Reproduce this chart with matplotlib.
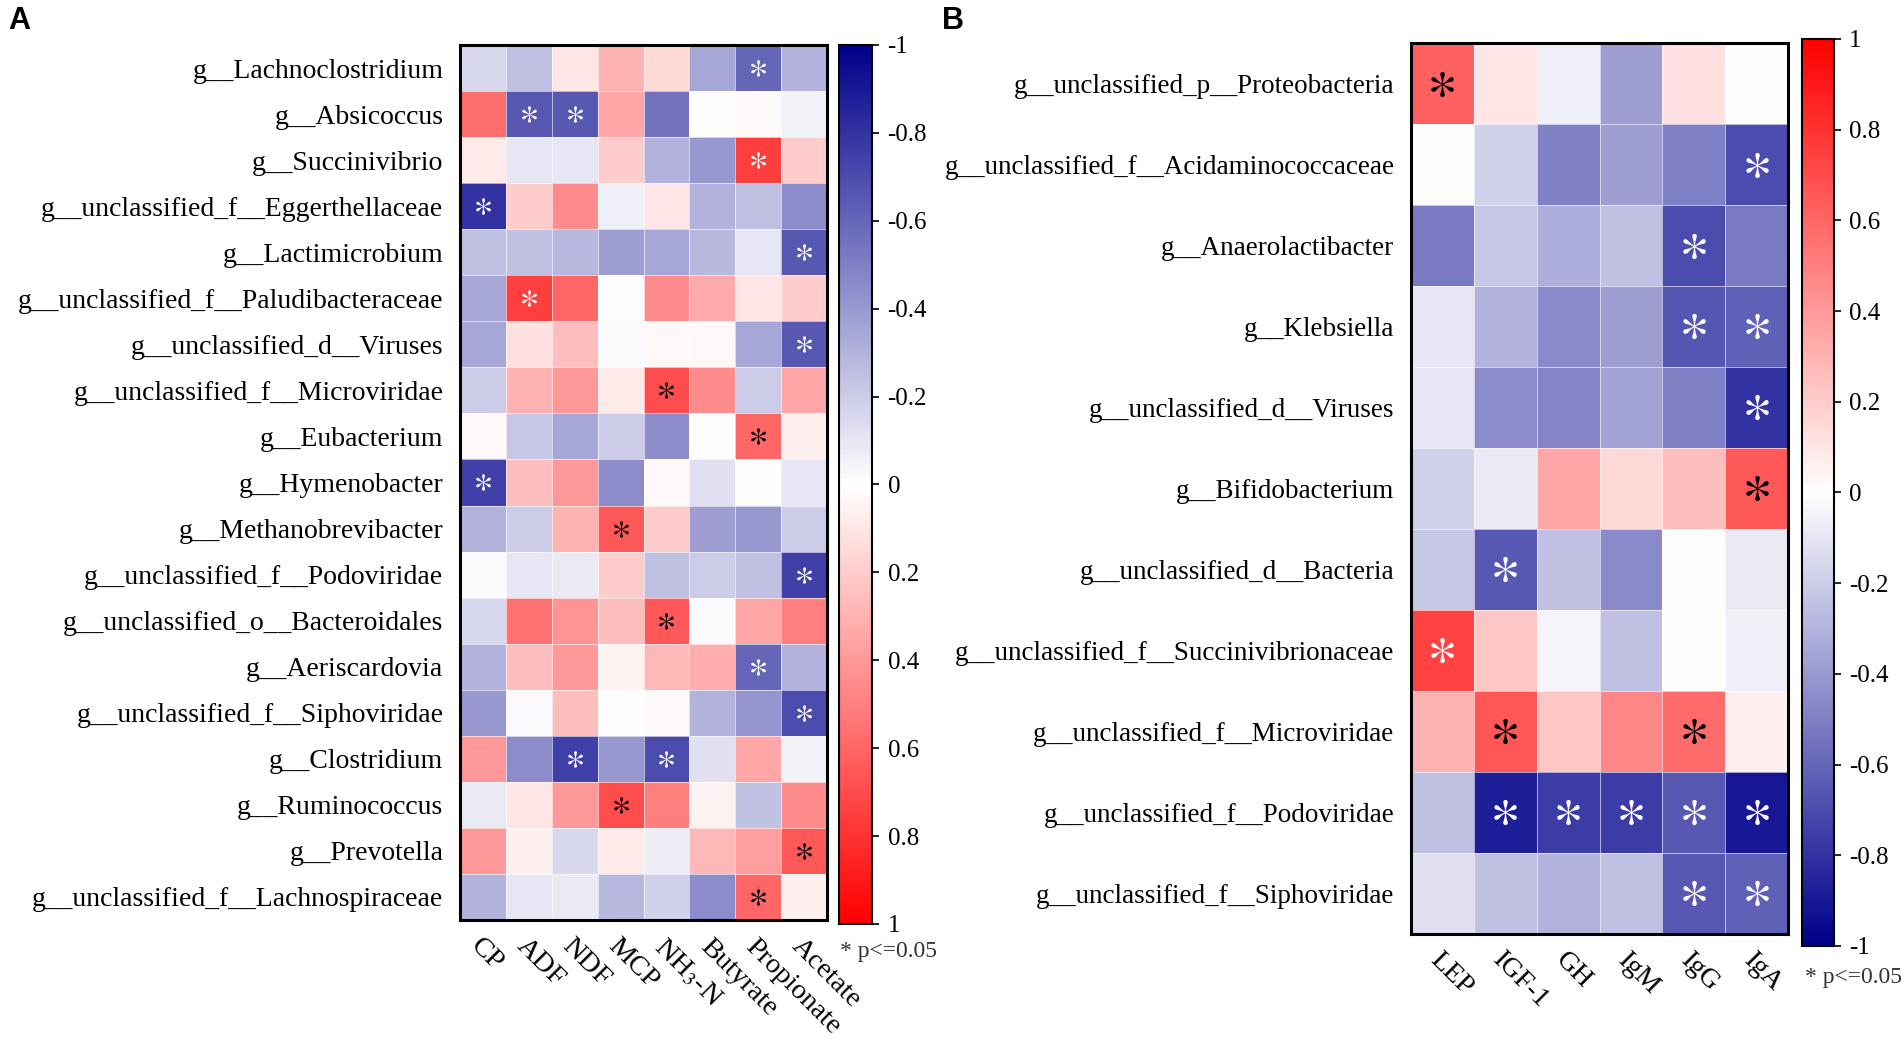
import numpy as np
import matplotlib
matplotlib.use("Agg")
import matplotlib.pyplot as plt
from matplotlib.colors import LinearSegmentedColormap

plt.rcParams["font.family"] = ["Liberation Serif", "DejaVu Serif"]
plt.rcParams["mathtext.fontset"] = "stix"

# ---- panel A: genera vs rumen fermentation parameters ----
genera_a = [
    "g__Lachnoclostridium",
    "g__Absicoccus",
    "g__Succinivibrio",
    "g__unclassified_f__Eggerthellaceae",
    "g__Lactimicrobium",
    "g__unclassified_f__Paludibacteraceae",
    "g__unclassified_d__Viruses",
    "g__unclassified_f__Microviridae",
    "g__Eubacterium",
    "g__Hymenobacter",
    "g__Methanobrevibacter",
    "g__unclassified_f__Podoviridae",
    "g__unclassified_o__Bacteroidales",
    "g__Aeriscardovia",
    "g__unclassified_f__Siphoviridae",
    "g__Clostridium",
    "g__Ruminococcus",
    "g__Prevotella",
    "g__unclassified_f__Lachnospiraceae",
]
params_a = ["CP", "ADF", "NDF", "MCP", "NH$_3$-N", "Butyrate", "Propionate", "Acetate"]

corr_a = [
    [-0.15, -0.25, 0.10, 0.30, 0.15, -0.35, -0.60, -0.30],
    [0.57, -0.65, -0.65, 0.35, -0.55, 0.00, 0.02, -0.05],
    [0.08, -0.10, -0.10, 0.20, -0.30, -0.40, 0.75, 0.20],
    [-0.80, 0.20, 0.45, -0.06, 0.10, -0.30, -0.25, -0.45],
    [-0.25, -0.25, -0.28, -0.38, -0.35, -0.28, -0.10, -0.65],
    [-0.35, 0.75, 0.60, 0.00, 0.45, 0.33, 0.10, 0.20],
    [-0.35, 0.12, 0.25, -0.02, 0.03, 0.03, -0.35, -0.65],
    [-0.20, 0.30, 0.40, 0.08, 0.70, 0.45, -0.20, 0.35],
    [0.03, -0.22, -0.35, -0.20, -0.45, 0.00, 0.60, 0.06],
    [-0.75, 0.25, 0.40, -0.45, 0.03, -0.12, 0.00, -0.10],
    [-0.30, -0.20, 0.30, 0.65, 0.20, -0.38, -0.40, -0.20],
    [-0.02, -0.10, -0.08, 0.20, -0.25, -0.20, -0.25, -0.75],
    [-0.15, 0.55, 0.42, 0.25, 0.65, -0.02, 0.35, 0.50],
    [-0.30, 0.25, 0.40, 0.05, 0.28, 0.32, -0.60, -0.30],
    [-0.40, -0.02, 0.25, 0.00, 0.02, -0.30, -0.42, -0.70],
    [0.40, -0.45, -0.75, -0.40, -0.70, -0.12, 0.35, -0.05],
    [-0.08, 0.10, 0.40, 0.70, 0.50, 0.05, -0.25, 0.45],
    [0.40, 0.06, -0.15, 0.08, -0.07, 0.28, 0.38, 0.65],
    [-0.30, -0.10, -0.08, -0.28, -0.18, -0.45, 0.60, 0.06],
]
# 0 = not significant, 1 = white star, 2 = black star
stars_a = [
    [0, 0, 0, 0, 0, 0, 1, 0],
    [0, 1, 1, 0, 0, 0, 0, 0],
    [0, 0, 0, 0, 0, 0, 1, 0],
    [1, 0, 0, 0, 0, 0, 0, 0],
    [0, 0, 0, 0, 0, 0, 0, 1],
    [0, 1, 0, 0, 0, 0, 0, 0],
    [0, 0, 0, 0, 0, 0, 0, 1],
    [0, 0, 0, 0, 2, 0, 0, 0],
    [0, 0, 0, 0, 0, 0, 2, 0],
    [1, 0, 0, 0, 0, 0, 0, 0],
    [0, 0, 0, 2, 0, 0, 0, 0],
    [0, 0, 0, 0, 0, 0, 0, 1],
    [0, 0, 0, 0, 2, 0, 0, 0],
    [0, 0, 0, 0, 0, 0, 1, 0],
    [0, 0, 0, 0, 0, 0, 0, 1],
    [0, 0, 1, 0, 1, 0, 0, 0],
    [0, 0, 0, 2, 0, 0, 0, 0],
    [0, 0, 0, 0, 0, 0, 0, 2],
    [0, 0, 0, 0, 0, 0, 2, 0],
]

# ---- panel B: genera vs serum hormones / immunoglobulins ----
genera_b = [
    "g__unclassified_p__Proteobacteria",
    "g__unclassified_f__Acidaminococcaceae",
    "g__Anaerolactibacter",
    "g__Klebsiella",
    "g__unclassified_d__Viruses",
    "g__Bifidobacterium",
    "g__unclassified_d__Bacteria",
    "g__unclassified_f__Succinivibrionaceae",
    "g__unclassified_f__Microviridae",
    "g__unclassified_f__Podoviridae",
    "g__unclassified_f__Siphoviridae",
]
params_b = ["LEP", "IGF-1", "GH", "IgM", "IgG", "IgA"]

corr_b = [
    [0.62, 0.10, -0.06, -0.38, 0.12, 0.00],
    [0.01, -0.18, -0.50, -0.38, -0.50, -0.70],
    [-0.52, -0.22, -0.32, -0.25, -0.70, -0.52],
    [-0.10, -0.30, -0.46, -0.38, -0.66, -0.62],
    [-0.10, -0.45, -0.48, -0.36, -0.50, -0.80],
    [-0.18, -0.08, 0.35, 0.15, 0.25, 0.65],
    [-0.22, -0.65, -0.25, -0.46, 0.00, -0.08],
    [0.74, 0.22, -0.04, -0.25, 0.01, -0.06],
    [0.30, 0.66, 0.22, 0.47, 0.58, 0.06],
    [-0.25, -0.88, -0.76, -0.76, -0.65, -0.90],
    [-0.12, -0.25, -0.30, -0.25, -0.65, -0.62],
]
stars_b = [
    [2, 0, 0, 0, 0, 0],
    [0, 0, 0, 0, 0, 1],
    [0, 0, 0, 0, 1, 0],
    [0, 0, 0, 0, 1, 1],
    [0, 0, 0, 0, 0, 1],
    [0, 0, 0, 0, 0, 2],
    [0, 1, 0, 0, 0, 0],
    [1, 0, 0, 0, 0, 0],
    [0, 2, 0, 0, 2, 0],
    [0, 1, 1, 1, 1, 1],
    [0, 0, 0, 0, 1, 1],
]

cmap = LinearSegmentedColormap.from_list("corr", ["#00008B", "#FFFFFF", "#FF0000"])
cbar_ticks = [-1, -0.8, -0.6, -0.4, -0.2, 0, 0.2, 0.4, 0.6, 0.8, 1]


def draw_panel(ax, cax, corr, stars, rows, cols, ylab_size, xlab_size, star_size, flip_cbar):
    corr = np.array(corr)
    stars = np.array(stars)
    mesh = ax.pcolormesh(corr, cmap=cmap, vmin=-1, vmax=1,
                         edgecolors=(1, 1, 1, 0.6), linewidth=0.6)
    ax.set_xlim(0, corr.shape[1])
    ax.set_ylim(corr.shape[0], 0)

    for kind, colour in [(1, "white"), (2, "black")]:
        yy, xx = np.nonzero(stars == kind)
        ax.scatter(xx + 0.5, yy + 0.5, marker="$*$", s=star_size,
                   color=colour, linewidths=0, zorder=3)

    ax.set_yticks(np.arange(len(rows)) + 0.5)
    ax.set_yticklabels(rows, fontsize=ylab_size)
    ax.set_xticks(np.arange(len(cols)) + 0.5)
    ax.set_xticklabels(cols, fontsize=xlab_size, rotation=-45, ha="left", va="top",
                       rotation_mode="anchor")
    ax.tick_params(length=0, pad=10)
    ax.tick_params(axis="y", pad=12)
    for sp in ax.spines.values():
        sp.set_linewidth(2.2)

    cb = plt.colorbar(mesh, cax=cax)
    cb.set_ticks(cbar_ticks)
    cb.set_ticklabels([f"{t:g}" for t in cbar_ticks])
    cb.ax.tick_params(labelsize=18, length=5, width=1.2, pad=6)
    cb.outline.set_linewidth(1.5)
    if flip_cbar:
        cax.invert_yaxis()


fig = plt.figure(figsize=(19.04, 10.44), dpi=100)

ax_a = fig.add_axes([0.2416, 0.1188, 0.1928, 0.8381])
cax_a = fig.add_axes([0.4406, 0.1150, 0.0175, 0.8420])
draw_panel(ax_a, cax_a, corr_a, stars_a, genera_a, params_a, 20, 20.5, 140, True)

ax_b = fig.add_axes([0.7411, 0.1054, 0.1980, 0.8534])
cax_b = fig.add_axes([0.9464, 0.0939, 0.0168, 0.8688])
draw_panel(ax_b, cax_b, corr_b, stars_b, genera_b, params_b, 19.5, 20, 330, False)

fig.text(0.0045, 0.972, "A", fontsize=22, fontweight="bold", family="Liberation Sans")
fig.text(0.495, 0.972, "B", fontsize=22, fontweight="bold", family="Liberation Sans")
fig.text(0.441, 0.083, "* p<=0.05", fontsize=17, color="#333333")
fig.text(0.948, 0.058, "* p<=0.05", fontsize=17, color="#333333")

fig.savefig("out.png", dpi=100)
